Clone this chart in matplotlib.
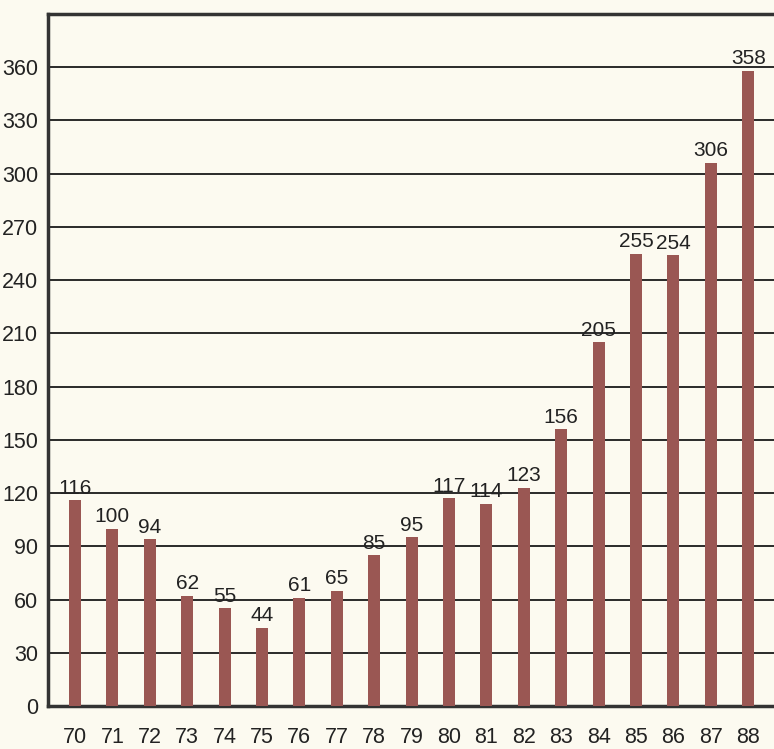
import matplotlib.pyplot as plt
import matplotlib.font_manager as fm

years = ["70", "71", "72", "73", "74", "75", "76", "77", "78", "79",
         "80", "81", "82", "83", "84", "85", "86", "87", "88"]
values = [116, 100, 94, 62, 55, 44, 61, 65, 85, 95,
          117, 114, 123, 156, 205, 255, 254, 306, 358]
yticks = list(range(0, 361, 30))

names = {f.name for f in fm.fontManager.ttflist}
fam = "Liberation Sans Narrow" if "Liberation Sans Narrow" in names else "Liberation Sans"
plt.rcParams['font.family'] = [fam, 'DejaVu Sans']

bg = "#fcfaf0"
fig = plt.figure(figsize=(7.74, 7.49), dpi=100, facecolor=bg)
ax = fig.add_axes([48/774, 43/749, 1 - 48/774, 692/749])
ax.set_facecolor(bg)

x = list(range(len(years)))
ax.bar(x, values, width=0.32, color="#9a5753", zorder=3)
for xi, v in zip(x, values):
    ax.text(xi, v + 1.5, str(v), ha="center", va="bottom", fontsize=15, color="#222222", zorder=4)

ax.set_ylim(0, 390)
ax.set_xlim(-0.72, 18.69)
ax.set_yticks(yticks)
ax.set_yticklabels([str(t) for t in yticks], fontsize=15.5, color="#222222")
ax.set_xticks(x)
ax.set_xticklabels(years, fontsize=15.5, color="#222222")
ax.tick_params(axis="both", length=0)
ax.tick_params(axis="x", pad=15)
ax.tick_params(axis="y", pad=7)
ax.yaxis.grid(True, color="#1a1a1a", linewidth=1.3, zorder=1)
ax.set_axisbelow(True)
for s in ["left", "top", "bottom"]:
    ax.spines[s].set_linewidth(2.5)
    ax.spines[s].set_color("#333333")
ax.spines["right"].set_visible(False)

fig.savefig("out.png", dpi=100, facecolor=bg)
